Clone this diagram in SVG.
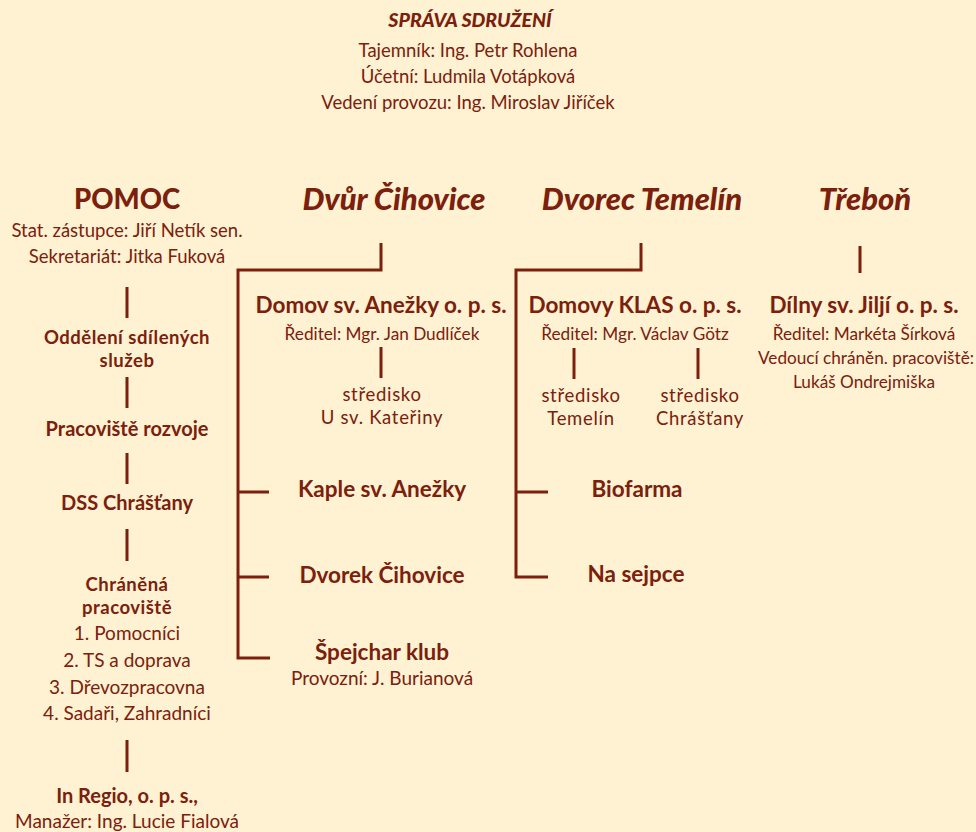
<svg xmlns="http://www.w3.org/2000/svg" width="976" height="832" viewBox="0 0 976 832">
<style>
text{font-family:Lato,"Noto Sans","DejaVu Sans",sans-serif;fill:#7b200c;text-anchor:middle}
.h{font-size:27.5px;font-weight:900}
.hi{font-size:31px;font-weight:900;font-style:italic}
.t{font-size:19.5px;font-weight:900;font-style:italic}
.b{font-size:22.5px;font-weight:700}
.bs{font-size:20px;font-weight:700}
.b2{font-size:18.5px;font-weight:700;letter-spacing:0.5px}
.r{font-size:18.5px}
.l{font-size:19px}
.rs{font-size:17.2px}
.m{font-size:18.5px;letter-spacing:0.7px}
.c{fill:none;stroke:#7b200c;stroke-width:3}
</style>
<rect width="976" height="832" fill="#fef2d3"/>
<g id="sprava">
<text class="t" x="470" y="27">SPRÁVA SDRUŽENÍ</text>
<text class="r" x="468" y="57">Tajemník: Ing. Petr Rohlena</text>
<text class="r" x="468" y="83">Účetní: Ludmila Votápková</text>
<text class="r" x="468" y="109">Vedení provozu: Ing. Miroslav Jiříček</text>
</g>
<g id="pomoc">
<text class="h" x="127" y="209">POMOC</text>
<text class="r" x="127" y="237">Stat. zástupce: Jiří Netík sen.</text>
<text class="r" x="127" y="263">Sekretariát: Jitka Fuková</text>
</g>
<g id="oddeleni"><text class="b2" x="127" y="344">Oddělení sdílených</text><text class="b2" x="127" y="366.5">služeb</text></g>
<g id="rozvoj"><text class="bs" x="127" y="436">Pracoviště rozvoje</text></g>
<g id="dss"><text class="bs" x="127" y="510">DSS Chrášťany</text></g>
<g id="chranena">
<text class="b2" x="127" y="591">Chráněná</text>
<text class="b2" x="127" y="613.5">pracoviště</text>
<text class="l" x="127" y="640">1. Pomocníci</text>
<text class="l" x="127" y="667">2. TS a doprava</text>
<text class="l" x="127" y="694">3. Dřevozpracovna</text>
<text class="l" x="127" y="720">4. Sadaři, Zahradníci</text>
</g>
<g id="inregio">
<text class="bs" x="127" y="803">In Regio, o. p. s.,</text>
<text class="l" x="127" y="828">Manažer: Ing. Lucie Fialová</text>
</g>
<g id="dvur"><text class="hi" x="394" y="210">Dvůr Čihovice</text></g>
<g id="anezka">
<text class="b" x="381" y="313">Domov sv. Anežky o. p. s.</text>
<text class="rs" x="382" y="340">Ředitel: Mgr. Jan Dudlíček</text>
</g>
<g id="katerina"><text class="m" x="382" y="401">středisko</text><text class="m" x="382" y="423.5">U sv. Kateřiny</text></g>
<g id="kaple"><text class="b" x="382" y="497">Kaple sv. Anežky</text></g>
<g id="dvorek"><text class="b" x="382" y="583">Dvorek Čihovice</text></g>
<g id="spejchar">
<text class="b" x="382" y="660">Špejchar klub</text>
<text class="l" x="382" y="685">Provozní: J. Burianová</text>
</g>
<g id="temelin"><text class="hi" x="642" y="210">Dvorec Temelín</text></g>
<g id="klas">
<text class="b" x="635" y="313">Domovy KLAS o. p. s.</text>
<text class="rs" x="635" y="340">Ředitel: Mgr. Václav Götz</text>
</g>
<g id="str-temelin"><text class="m" x="581" y="402">středisko</text><text class="m" x="581" y="425">Temelín</text></g>
<g id="str-chrastany"><text class="m" x="700" y="402">středisko</text><text class="m" x="700" y="425">Chrášťany</text></g>
<g id="biofarma"><text class="b" x="637" y="497">Biofarma</text></g>
<g id="sejpce"><text class="b" x="636" y="582">Na sejpce</text></g>
<g id="trebon"><text class="hi" x="865" y="210">Třeboň</text></g>
<g id="jilji">
<text class="b" x="864" y="313">Dílny sv. Jiljí o. p. s.</text>
<text class="rs" x="864" y="340">Ředitel: Markéta Šírková</text>
<text class="rs" x="866" y="364">Vedoucí chráněn. pracoviště:</text>
<text class="rs" x="864" y="388">Lukáš Ondrejmiška</text>
</g>
<g id="connectors">
<path class="c" d="M127 287V318M127 377V408M127 453V484M127 529V561M127 740V772"/>
<path class="c" d="M381 243V270H238V658H270M238 492H269M238 577H269"/>
<path class="c" d="M381 347V378"/>
<path class="c" d="M641 243V270H516V577H548M516 492H548"/>
<path class="c" d="M574 348V379M698 348V379"/>
<path class="c" d="M860 246V273"/>
</g>
</svg>
